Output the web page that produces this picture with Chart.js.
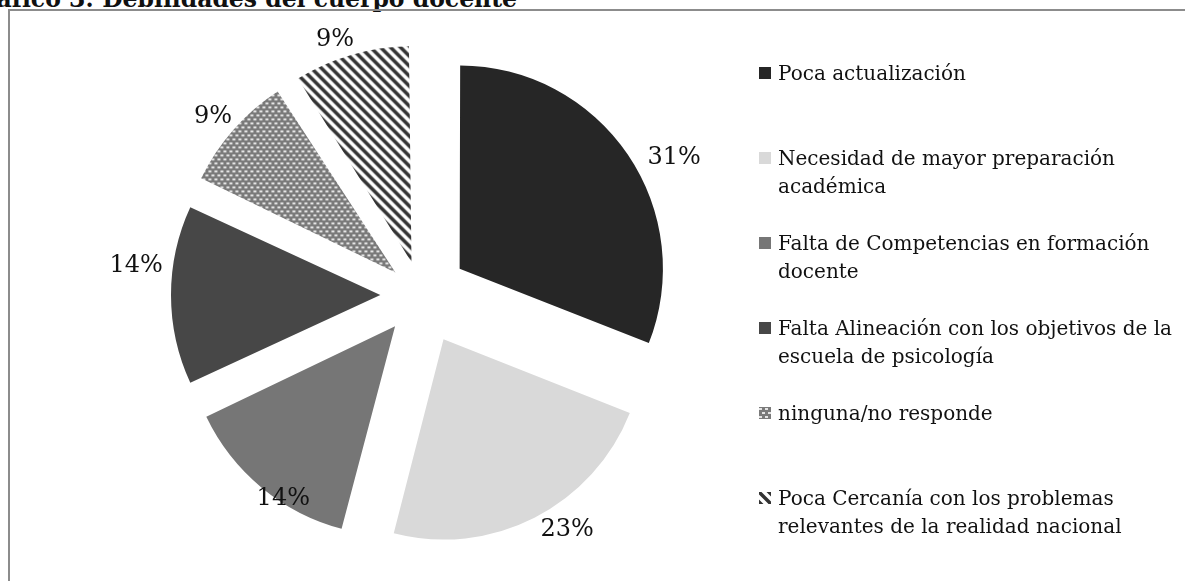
<!DOCTYPE html>
<html lang="es">
<head>
<meta charset="utf-8">
<title>Debilidades del cuerpo docente</title>
<script src="https://cdn.jsdelivr.net/npm/chart.js@4.4.0/dist/chart.umd.min.js"></script>
<style>
  html, body { margin: 0; padding: 0; background: #fff; }
  body { width: 1185px; height: 581px; overflow: hidden; position: relative; font-family: "DejaVu Serif", serif; color: #111; }
  #title { position: absolute; right: 668px; top: -13px; font-weight: bold; font-size: 23.5px; line-height: 24px; white-space: nowrap; }
  #frame { position: absolute; left: 8px; top: 9px; width: 1200px; height: 600px; border-left: 2px solid #8c8c8c; border-top: 2px solid #8c8c8c; }
  #wrap { position: absolute; left: 0; top: 0; width: 842px; height: 590px; }
  #legend { position: absolute; left: 759px; top: 59px; width: 420px; }
  .item { display: flex; align-items: flex-start; height: 85px; }
  .item canvas { flex: none; margin: 8px 7px 0 0; }
  .item span { font-size: 20px; line-height: 28px; width: 400px; }
</style>
</head>
<body>
<div id="title">Gráfico 3: Debilidades del cuerpo docente</div>
<div id="frame"></div>
<div id="wrap"><canvas id="chart"></canvas></div>
<div id="legend"></div>
<script>
const categories = [
    'Poca actualización',
    'Necesidad de mayor preparación académica',
    'Falta de Competencias en formación docente',
    'Falta Alineación con los objetivos de la escuela de psicología',
    'ninguna/no responde',
    'Poca Cercanía con los problemas relevantes de la realidad nacional'
];
const percentages = [31, 23, 14, 14, 9, 9];

const EXPLODE = 50;

function dotPattern() {
    const c = document.createElement('canvas');
    c.width = 6; c.height = 8;
    const g = c.getContext('2d');
    g.fillStyle = '#7a7a7a';
    g.fillRect(0, 0, 6, 8);
    g.fillStyle = '#e4e4e4';
    g.fillRect(0, 1, 3, 2);
    g.fillRect(3, 5, 3, 2);
    return document.createElement('canvas').getContext('2d').createPattern(c, 'repeat');
}

function stripePattern() {
    const c = document.createElement('canvas');
    c.width = 10; c.height = 10;
    const g = c.getContext('2d');
    g.fillStyle = '#ffffff';
    g.fillRect(0, 0, 10, 10);
    g.strokeStyle = '#333333';
    g.lineWidth = 3.5;
    g.beginPath();
    g.moveTo(-3, -3); g.lineTo(13, 13);
    g.moveTo(-3, 7); g.lineTo(3, 13);
    g.moveTo(7, -3); g.lineTo(13, 3);
    g.stroke();
    return document.createElement('canvas').getContext('2d').createPattern(c, 'repeat');
}

const sliceFills = ['#262626', '#d9d9d9', '#767676', '#474747', dotPattern(), stripePattern()];

// Chart.js moves an arc by offset/4 * (1 + fix); undo that so every slice moves EXPLODE px
function sliceOffset(ctx) {
    const data = ctx.dataset.data;
    const total = data.reduce((a, b) => a + b, 0);
    const circ = data[ctx.dataIndex] / total * Math.PI * 2;
    const fix = 1 - Math.sin(Math.min(Math.PI, circ));
    return EXPLODE * 4 / (1 + fix);
}

// percent labels outside each slice, with a small best-fit style nudge (degrees, px)
const pctLabels = {
    id: 'pctLabels',
    afterDatasetsDraw(chart, args, opts) {
        const ctx = chart.ctx;
        const meta = chart.getDatasetMeta(0);
        const data = chart.data.datasets[0].data;
        ctx.save();
        ctx.font = opts.size + 'px "DejaVu Serif", serif';
        ctx.fillStyle = opts.color;
        ctx.textAlign = 'center';
        ctx.textBaseline = 'middle';
        meta.data.forEach((arc, i) => {
            const mid = (arc.startAngle + arc.endAngle) / 2;
            const sx = arc.x + Math.cos(mid) * EXPLODE;
            const sy = arc.y + Math.sin(mid) * EXPLODE;
            const a = mid + (opts.turn[i] || 0) * Math.PI / 180;
            const ux = Math.cos(a), uy = Math.sin(a);
            const text = data[i] + '%';
            const w = ctx.measureText(text).width;
            const h = opts.size * 0.8;
            const d = arc.outerRadius + opts.gap + (opts.pull[i] || 0) + Math.abs(ux) * w / 2 + Math.abs(uy) * h / 2;
            ctx.fillText(text, sx + ux * d, sy + uy * d);
        });
        ctx.restore();
    }
};

new Chart(document.getElementById('chart').getContext('2d'), {
    type: 'pie',
    data: {
        labels: categories,
        datasets: [{
            data: percentages,
            backgroundColor: sliceFills,
            borderWidth: 0,
            offset: sliceOffset
        }]
    },
    options: {
        responsive: true,
        maintainAspectRatio: false,
        animation: false,
        events: [],
        radius: 200,
        layout: { padding: 0 },
        plugins: {
            legend: { display: false },
            tooltip: { enabled: false },
            pctLabels: {
                size: 24, color: '#111', gap: 6,
                turn: [7, -6, -7, 7, -1, -3],
                pull: [4, -2, -32, 3, -3, -2]
            }
        }
    },
    plugins: [pctLabels]
});

const legend = document.getElementById('legend');
categories.forEach((name, i) => {
    const item = document.createElement('div');
    item.className = 'item';
    const sw = document.createElement('canvas');
    sw.width = 12; sw.height = 12;
    const g = sw.getContext('2d');
    g.fillStyle = sliceFills[i];
    g.fillRect(0, 0, 12, 12);
    const label = document.createElement('span');
    label.textContent = name;
    item.appendChild(sw);
    item.appendChild(label);
    legend.appendChild(item);
});
</script>
</body>
</html>
